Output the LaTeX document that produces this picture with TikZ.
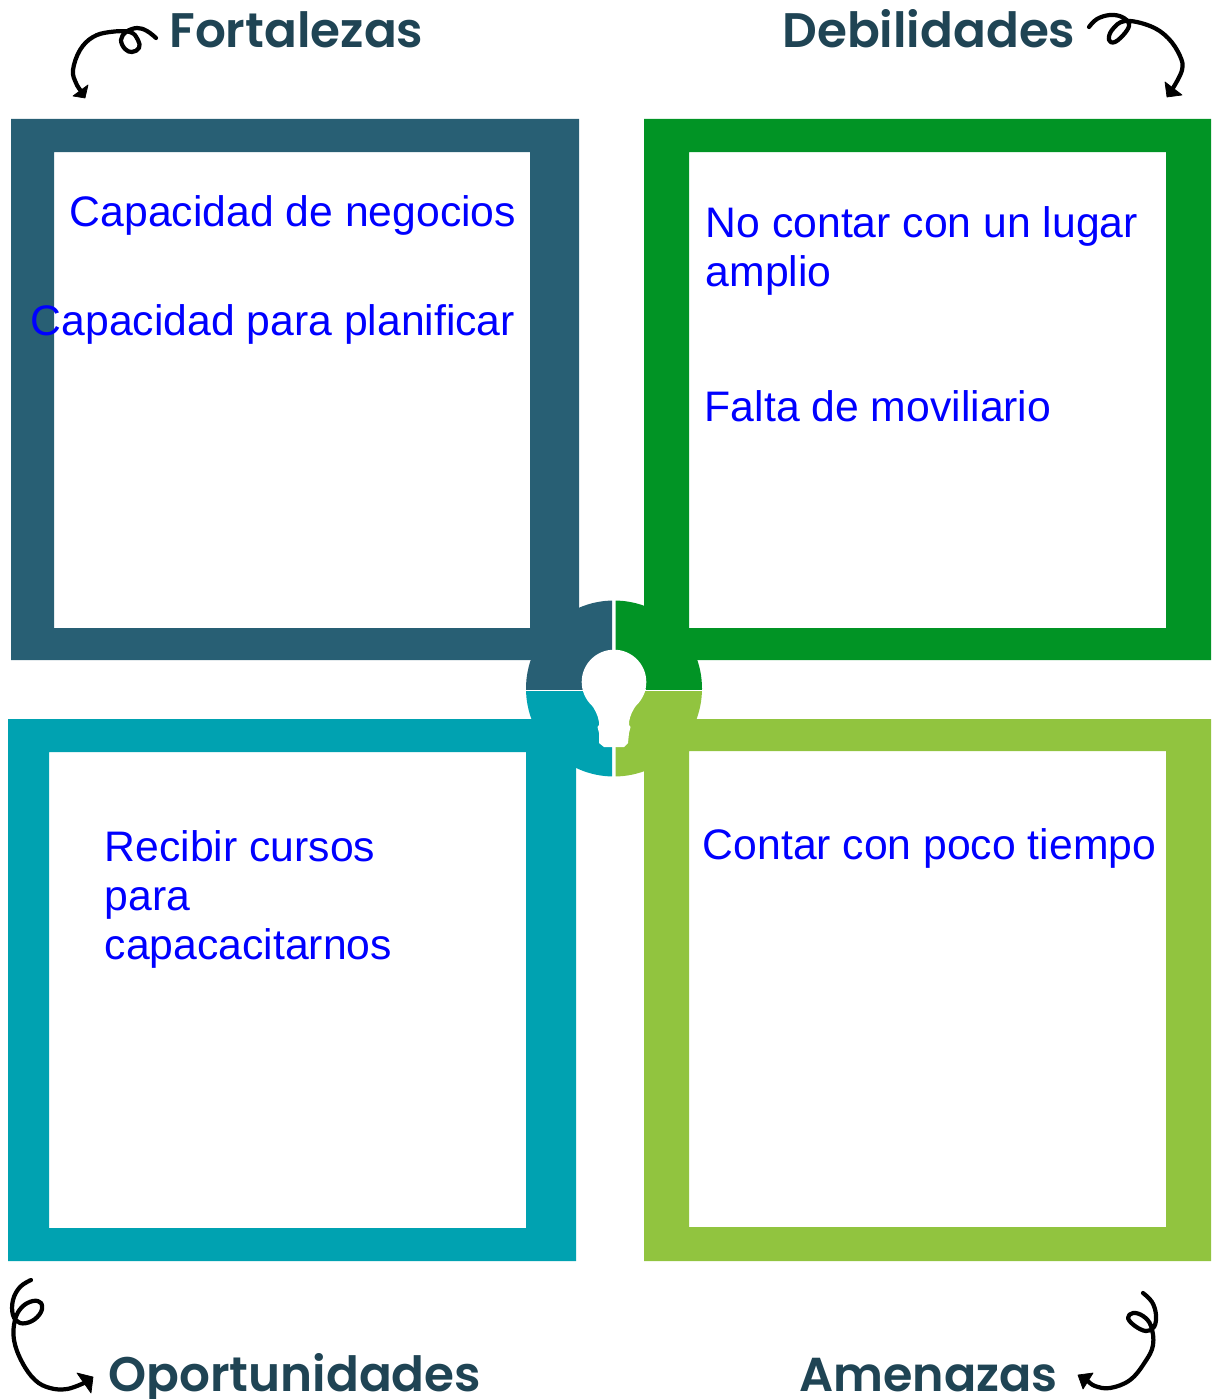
\documentclass[tikz,border=0pt]{standalone}
\usepackage{fontspec}
\setmainfont{Liberation Sans}
\newfontfamily\titlefont{Poppins SemiBold}
\definecolor{cTL}{HTML}{285F74}
\definecolor{cTR}{HTML}{019425}
\definecolor{cBL}{HTML}{00A2B1}
\definecolor{cBR}{HTML}{91C43F}
\definecolor{cTitle}{HTML}{1F4454}
\tikzset{
  bodytext/.style={anchor=base west,inner sep=0pt,text=blue,font=\fontsize{24.3}{30}\selectfont},
  titletext/.style={anchor=base west,inner sep=0pt,text=cTitle,font=\titlefont\fontsize{27.6}{30}\selectfont},
  squiggle/.style={draw=black,line width=2.4pt,line cap=round,line join=round},
  tiphead/.style={fill=black,draw=black,line width=0.4pt,line join=round}
}
\begin{document}
\begin{tikzpicture}[x=0.02cm,y=-0.02cm]
\useasboundingbox (0,0) rectangle (1211,1399);
% frames
\fill[cTL,even odd rule] (11,119) rectangle (579,660) (54,152) rectangle (530,628);
\fill[cTR,even odd rule] (644,119) rectangle (1211,660) (689,152) rectangle (1166,628);
\fill[cBL,even odd rule] (8,719) rectangle (576,1261) (49,752) rectangle (526,1228);
\fill[cBR,even odd rule] (644,719) rectangle (1211,1261) (689,751) rectangle (1166,1227);
% centre wedges
\begin{scope}\clip (500,580) rectangle (612,689); \fill[cTL] (614,688.5) circle[radius=88]; \end{scope}
\begin{scope}\clip (615.7,580) rectangle (720,689); \fill[cTR] (614,688.5) circle[radius=88]; \end{scope}
\begin{scope}\clip (500,691) rectangle (612,800); \fill[cBL] (614,688.5) circle[radius=88]; \end{scope}
\begin{scope}\clip (615.7,691) rectangle (720,800); \fill[cBR] (614,688.5) circle[radius=88]; \end{scope}
% bulb
\fill[white] (614,682) circle[radius=32.3];
\fill[white] (583,689) .. controls (586,700) and (597,708) .. (599,722) -- (599,725) -- (597.5,727) -- (599,733) -- (599,743) -- (604,747) -- (624,747) -- (628,743) -- (629,733) -- (630.5,727) -- (629,725) -- (629,722) .. controls (631,708) and (642,700) .. (646,689) -- cycle;
% arrows
\draw[squiggle] plot[smooth,tension=0.65] coordinates {(156,38) (147,31) (137,28) (126,32) (121,40) (125,49) (132,52) (139,48) (138,40) (130,32) (110,32) (93,37) (80,50) (73,70) (76,83) (81,91)};
\fill[tiphead] (73,96) -- (88,85) -- (85,98) -- cycle;
\draw[squiggle] plot[smooth,tension=0.65] coordinates {(1089,27) (1097,19) (1110,15) (1122,17) (1129,24) (1125,33) (1115,42) (1109,40) (1112,30) (1125,21) (1150,26) (1168,38) (1180,56) (1182,70) (1173,88)};
\fill[tiphead] (1165,82) -- (1182,95) -- (1167,97) -- cycle;
\draw[squiggle] plot[smooth,tension=0.65] coordinates {(31,1280) (20,1287) (13,1300) (13,1315) (20,1323) (32,1321) (41,1312) (41,1303) (33,1301) (22,1307) (15,1320) (14,1340) (22,1362) (35,1380) (50,1388) (67,1389) (84,1383)};
\fill[tiphead] (77,1373) -- (93,1377) -- (91,1393) -- cycle;
\draw[squiggle] plot[smooth,tension=0.65] coordinates {(1143,1293) (1152,1302) (1156,1315) (1154,1327) (1146,1331) (1135,1326) (1128,1318) (1133,1313) (1143,1316) (1151,1326) (1153,1345) (1145,1362) (1130,1380) (1110,1388) (1095,1386) (1088,1381)};
\fill[tiphead] (1078,1375) -- (1093,1373) -- (1083,1389) -- cycle;
% titles
\node[titletext] (tFort) at (169,47.5) {Fortalezas};
\node[titletext] (tDeb) at (782,47.5) {Debilidades};
\node[titletext] (tOpor) at (108,1391) {Oportunidades};
\node[titletext,font=\titlefont\fontsize{27.1}{30}\selectfont] (tAmen) at (799,1391) {Amenazas};
% body text
\node[bodytext] (a1) at (69.5,226) {Capacidad de negocios};
\node[bodytext] (a2) at (30.5,335) {Capacidad para planificar};
\node[bodytext] (b1) at (705.5,237) {No contar con un lugar};
\node[bodytext] (b2) at (705.5,286) {amplio};
\node[bodytext] (b3) at (704.5,421) {Falta de moviliario};
\node[bodytext] (c1) at (104.5,861) {Recibir cursos};
\node[bodytext] (c2) at (104.5,910) {para};
\node[bodytext] (c3) at (104.5,959) {capacacitarnos};
\node[bodytext] (d1) at (702.5,859) {Contar con poco tiempo};
\end{tikzpicture}
\end{document}
